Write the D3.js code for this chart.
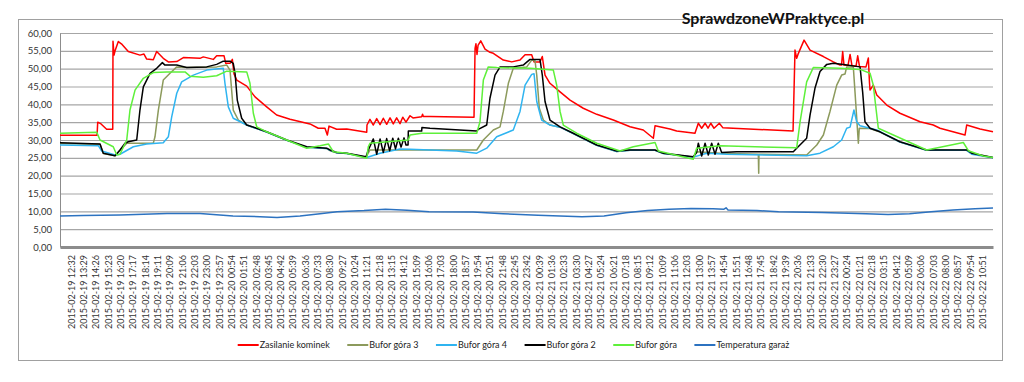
<!DOCTYPE html>
<html><head><meta charset="utf-8">
<script src="https://cdn.jsdelivr.net/npm/d3@7"></script>
<style>
html,body{margin:0;padding:0;background:#fff;}
svg{display:block;font-family:Lato,"Liberation Sans",sans-serif;}
</style></head>
<body><svg id="c" width="1024" height="382"></svg>
<script>
// x values: hours since 2015-02-19 12:32
const tickLabels = ["2015-02-19 12:32","2015-02-19 13:29","2015-02-19 14:26","2015-02-19 15:23","2015-02-19 16:20","2015-02-19 17:17","2015-02-19 18:14","2015-02-19 19:11","2015-02-19 20:09","2015-02-19 21:06","2015-02-19 22:03","2015-02-19 23:00","2015-02-19 23:57",
"2015-02-20 00:54","2015-02-20 01:51","2015-02-20 02:48","2015-02-20 03:45","2015-02-20 04:42","2015-02-20 05:39","2015-02-20 06:36","2015-02-20 07:33","2015-02-20 08:30","2015-02-20 09:27","2015-02-20 10:24","2015-02-20 11:21","2015-02-20 12:18","2015-02-20 13:15","2015-02-20 14:12","2015-02-20 15:09","2015-02-20 16:06","2015-02-20 17:03","2015-02-20 18:00","2015-02-20 18:57","2015-02-20 19:54","2015-02-20 20:51","2015-02-20 21:48","2015-02-20 22:45","2015-02-20 23:42",
"2015-02-21 00:39","2015-02-21 01:36","2015-02-21 02:33","2015-02-21 03:30","2015-02-21 04:27","2015-02-21 05:24","2015-02-21 06:21","2015-02-21 07:18","2015-02-21 08:15","2015-02-21 09:12","2015-02-21 10:09","2015-02-21 11:06","2015-02-21 12:03","2015-02-21 13:00","2015-02-21 13:57","2015-02-21 14:54","2015-02-21 15:51","2015-02-21 16:48","2015-02-21 17:45","2015-02-21 18:42","2015-02-21 19:39","2015-02-21 20:36","2015-02-21 21:33","2015-02-21 22:30","2015-02-21 23:27",
"2015-02-22 00:24","2015-02-22 01:21","2015-02-22 02:18","2015-02-22 03:15","2015-02-22 04:12","2015-02-22 05:09","2015-02-22 06:06","2015-02-22 07:03","2015-02-22 08:00","2015-02-22 08:57","2015-02-22 09:54","2015-02-22 10:51"];
const yTicks = [0,5,10,15,20,25,30,35,40,45,50,55,60];
const seriesNames = ["Zasilanie kominek","Bufor góra 3","Bufor góra 4","Bufor góra 2","Bufor góra","Temperatura garaż"];
const seriesColors = ["#ff0000","#8c9a5c","#2fb4f0","#000000","#5ef03a","#2c72c0"];

const zasilanieKominek = [[-0.85,31.3],[2.01,31.3],[2.06,35.0],[2.32,34.5],[2.75,33.0],[3.22,33.0],[3.24,57.7],[3.32,53.8],[3.40,55.0],[3.65,57.6],[3.94,56.8],[4.42,54.8],[5.32,53.8],[5.63,54.1],[5.84,52.7],[6.35,52.5],[6.61,54.8],[7.12,52.9],[7.51,51.9],[8.16,52.0],[8.67,53.1],[9.95,52.9],[10.21,53.3],[10.98,52.6],[11.24,53.6],[11.81,53.6],[11.94,51.5],[12.27,51.5],[12.45,52.6],[12.58,48.5],[12.79,46.8],[13.56,45.1],[14.20,42.1],[15.10,39.3],[15.87,37.0],[16.90,35.8],[18.44,34.5],[19.08,33.3],[19.60,33.3],[19.78,31.4],[19.91,33.9],[20.50,33.0],[21.28,33.1],[22.82,32.2],[22.84,34.2],[23.07,35.8],[23.33,34.2],[23.59,36.0],[23.85,34.3],[24.10,36.1],[24.36,34.4],[24.62,36.2],[24.87,34.5],[25.13,36.2],[25.39,34.6],[25.60,36.4],[25.85,35.0],[26.16,36.8],[26.39,36.2],[27.06,36.5],[27.13,37.2],[27.19,36.6],[27.70,36.6],[31.10,36.4],[31.18,55.7],[31.25,57.0],[31.33,54.0],[31.41,56.5],[31.62,57.8],[31.95,55.5],[32.33,54.6],[32.59,54.3],[33.36,52.4],[34.01,51.9],[34.65,52.4],[35.04,53.9],[35.55,53.9],[35.73,51.9],[36.19,51.9],[36.37,53.4],[36.58,48.2],[36.96,45.9],[37.74,43.5],[38.51,41.2],[39.53,38.9],[40.57,37.2],[41.85,35.6],[43.14,33.7],[44.16,32.8],[44.94,30.5],[45.07,34.0],[46.22,33.1],[46.74,32.5],[48.15,31.9],[48.41,34.7],[48.67,33.3],[48.93,34.7],[49.16,33.3],[49.37,34.7],[49.62,33.3],[50.03,34.7],[50.31,33.4],[51.09,33.3],[55.72,32.5],[55.87,55.2],[56.00,52.9],[56.10,54.0],[56.57,58.0],[57.03,55.2],[58.06,53.4],[58.83,51.9],[59.34,51.0],[59.46,51.0],[59.55,54.8],[59.65,51.0],[59.96,50.9],[60.12,54.0],[60.27,50.8],[60.58,50.7],[60.71,53.6],[60.85,50.6],[61.35,50.5],[61.53,53.0],[61.62,46.0],[61.66,44.0],[61.91,45.4],[62.18,42.6],[62.95,39.8],[63.97,37.5],[65.52,35.1],[66.54,34.2],[67.06,33.3],[68.99,31.4],[69.12,34.2],[70.15,33.1],[71.15,32.3]];

const buforGora3 = [[-0.85,29.0],[2.24,28.8],[2.49,26.2],[3.40,25.6],[4.30,29.1],[6.35,29.1],[6.48,30.9],[6.74,38.4],[7.12,46.8],[7.64,48.7],[8.16,50.5],[8.93,50.3],[11.24,50.5],[12.02,51.0],[12.27,49.6],[12.52,38.4],[12.91,35.6],[13.56,34.2],[14.33,33.2],[15.10,32.2],[16.65,29.9],[18.19,28.0],[19.73,27.6],[19.99,27.0],[20.50,26.4],[21.28,26.2],[22.77,25.2],[23.07,27.2],[31.31,27.2],[31.82,30.0],[32.59,32.8],[33.11,33.7],[33.36,38.0],[33.75,45.9],[34.13,50.1],[35.17,50.5],[35.55,52.4],[35.81,52.2],[35.94,48.2],[36.14,38.9],[36.45,35.6],[36.96,34.2],[37.74,33.6],[38.76,31.8],[40.57,28.5],[42.11,26.8],[43.14,27.1],[45.07,27.1],[45.71,26.2],[48.02,25.2],[48.28,26.7],[50.08,26.3],[53.04,26.0],[53.07,20.7],[53.09,26.0],[56.77,25.8],[57.55,28.6],[58.06,31.4],[58.57,38.0],[59.09,45.4],[59.47,48.2],[59.73,48.5],[59.86,50.5],[60.37,50.5],[60.50,43.5],[60.76,29.1],[60.83,33.3],[61.66,33.2],[62.43,32.2],[63.97,29.4],[66.03,27.1],[69.12,27.1],[69.51,26.2],[71.15,25.0]];

const buforGora4 = [[-0.85,28.6],[2.11,28.4],[2.37,26.9],[3.40,25.8],[3.78,26.0],[4.81,28.1],[5.84,28.9],[7.12,29.2],[7.51,30.9],[7.77,36.5],[8.16,43.1],[8.54,46.3],[9.44,48.2],[10.47,49.6],[11.75,50.1],[11.88,45.9],[12.14,39.3],[12.52,36.1],[13.56,34.2],[14.33,33.2],[15.10,32.2],[16.65,29.9],[18.19,28.0],[19.73,27.6],[19.99,27.1],[20.50,26.4],[21.28,26.2],[22.82,25.1],[23.85,26.3],[25.39,27.5],[26.16,27.4],[27.70,27.2],[29.76,26.9],[31.31,26.3],[32.08,27.7],[32.85,30.9],[34.13,32.8],[34.65,38.0],[35.04,45.4],[35.55,48.4],[35.73,48.6],[35.94,40.8],[36.32,35.6],[36.96,34.2],[37.74,33.6],[38.76,31.8],[40.57,28.5],[42.11,26.8],[43.14,27.1],[45.07,27.1],[45.71,26.2],[48.02,25.2],[49.06,26.3],[50.60,26.0],[56.77,25.6],[57.80,26.3],[58.83,28.1],[59.47,30.0],[59.86,33.3],[60.12,33.6],[60.42,38.4],[60.63,35.1],[60.89,34.0],[62.18,32.8],[63.97,29.4],[66.03,27.1],[69.12,27.1],[69.51,26.0],[71.15,25.0]];

const buforGora2 = [[-0.85,29.2],[2.24,28.9],[2.49,26.3],[3.40,25.6],[3.78,27.2],[4.17,29.1],[4.42,29.5],[5.07,30.0],[5.32,38.4],[5.58,44.9],[6.10,48.7],[6.61,50.1],[7.05,51.7],[7.25,51.0],[8.16,51.0],[8.93,50.3],[10.47,50.5],[11.24,51.2],[11.75,52.1],[12.27,52.1],[12.52,51.5],[12.66,48.7],[12.83,41.2],[13.17,36.1],[13.56,34.2],[14.33,33.3],[15.10,32.3],[16.65,30.0],[18.19,28.1],[19.73,27.7],[19.99,27.2],[20.50,26.5],[21.28,26.3],[22.77,25.3],[22.92,27.0],[23.33,30.3],[23.59,26.0],[23.85,30.3],[24.10,26.5],[24.36,30.4],[24.59,27.0],[24.83,30.5],[25.04,27.5],[25.26,30.5],[25.47,28.0],[25.70,30.6],[25.85,28.6],[26.01,28.6],[26.03,32.5],[27.06,32.5],[27.08,33.5],[27.70,33.3],[31.31,32.5],[31.43,33.0],[32.08,34.2],[32.33,41.7],[32.72,48.2],[33.11,50.5],[34.13,50.5],[34.90,51.0],[35.42,52.6],[36.19,52.6],[36.37,48.2],[36.58,40.8],[36.96,35.6],[37.74,33.7],[38.76,31.9],[40.57,28.6],[42.11,26.9],[43.14,27.2],[45.07,27.2],[45.71,26.3],[48.02,25.3],[48.28,26.5],[48.41,29.1],[48.67,25.5],[48.93,29.1],[49.18,25.8],[49.44,29.1],[49.70,26.0],[49.95,29.1],[50.21,26.5],[51.37,26.7],[55.74,26.7],[56.00,27.7],[56.77,30.5],[57.03,37.0],[57.41,44.5],[57.80,49.2],[58.32,51.2],[58.83,51.5],[59.60,51.2],[60.89,50.5],[61.09,43.5],[61.27,35.1],[61.66,33.3],[62.43,32.3],[63.97,29.5],[66.03,27.2],[69.12,27.2],[69.51,26.3],[71.15,25.1]];

const buforGora = [[-0.85,31.9],[1.98,32.2],[2.24,30.0],[3.26,28.1],[3.53,25.8],[3.78,26.0],[4.30,30.0],[4.55,38.4],[4.94,44.0],[5.58,47.3],[6.35,48.9],[7.39,49.1],[8.80,49.1],[9.18,47.9],[10.21,47.6],[11.24,48.0],[12.02,49.3],[13.56,49.1],[13.81,45.9],[14.07,37.5],[14.33,33.7],[15.10,32.3],[16.65,30.0],[18.19,27.7],[19.22,28.4],[19.86,28.9],[20.24,26.7],[20.76,26.5],[21.28,26.3],[22.82,24.9],[22.94,28.1],[23.07,29.1],[26.03,30.0],[26.16,31.4],[27.06,31.9],[31.31,31.9],[31.56,35.1],[31.82,46.8],[32.20,50.5],[32.85,50.3],[35.42,50.1],[37.22,49.6],[37.48,45.4],[37.74,38.0],[37.99,34.2],[39.02,31.9],[40.57,29.1],[42.37,26.9],[43.39,28.1],[45.07,29.3],[45.32,26.9],[48.02,24.6],[48.28,27.7],[50.08,28.4],[56.00,27.8],[56.26,35.1],[56.77,46.3],[57.28,50.3],[59.34,50.1],[60.89,49.8],[61.66,48.7],[61.91,45.4],[62.30,33.3],[63.46,31.4],[66.03,27.2],[68.86,29.3],[69.25,27.0],[70.40,25.5],[71.15,25.1]];

const temperaturaGaraz = [[-0.85,8.7],[0.93,8.8],[3.78,9.0],[7.41,9.4],[9.95,9.4],[12.50,8.7],[14.59,8.5],[15.90,8.3],[17.67,8.7],[19.22,9.3],[20.53,9.9],[22.61,10.2],[24.27,10.6],[25.93,10.3],[27.63,9.9],[31.02,9.8],[33.34,9.3],[36.04,8.9],[39.43,8.5],[41.13,8.7],[42.83,9.6],[44.49,10.2],[46.15,10.6],[47.85,10.8],[49.54,10.7],[50.39,10.6],[50.55,11.0],[50.70,10.4],[52.94,10.2],[54.60,9.9],[57.95,9.7],[61.35,9.3],[63.05,9.1],[64.71,9.3],[66.37,9.9],[68.06,10.4],[69.76,10.7],[71.15,10.9]];

const seriesData = [zasilanieKominek, buforGora3, buforGora4, buforGora2, buforGora, temperaturaGaraz];

const startTime = new Date(2015,1,19,12,32);
const parse = d3.timeParse("%Y-%m-%d %H:%M");
const tickHours = tickLabels.map(s => (parse(s) - startTime)/3600000);

const svg = d3.select("#c");
const L = 60, R = 993, T = 33, B = 247;

// chart border
svg.append("rect").attr("x",18.5).attr("y",19.5).attr("width",984).attr("height",341)
  .attr("fill","none").attr("stroke","#a0a0a0").attr("stroke-width",1);

const x = d3.scaleLinear().domain([-0.85, 71.15]).range([L, R]);
const y = d3.scaleLinear().domain([0, 60]).range([B, T]);

// gridlines
svg.append("g").attr("transform",`translate(${L},0)`)
  .call(d3.axisLeft(y).tickValues(yTicks.slice(1)).tickSize(-(R-L)).tickFormat(""))
  .call(g=>g.select(".domain").remove())
  .call(g=>g.selectAll("line").attr("stroke","#a6a6a6").attr("stroke-width",1.2));

// y axis labels
const fmt = d => d3.format(".2f")(d).replace(".",",");
svg.append("g").attr("transform",`translate(${L},0)`)
  .call(d3.axisLeft(y).tickValues(yTicks).tickSize(0).tickPadding(8).tickFormat(fmt))
  .call(g=>g.select(".domain").attr("stroke","#8c8c8c"))
  .call(g=>g.selectAll("text").attr("font-family","Lato").attr("font-size",9.5).attr("fill","#333"));

// x axis
const xa = svg.append("g").attr("transform",`translate(0,${B})`)
  .call(d3.axisBottom(x).tickValues(tickHours).tickSize(0).tickFormat((d,i)=>tickLabels[i]));
xa.select(".domain").attr("stroke","#8c8c8c").attr("stroke-width",3);
xa.selectAll("text").attr("font-family","Lato").attr("font-size",9).attr("fill","#333")
  .attr("text-anchor","end").attr("transform","translate(0,8) rotate(-90)").attr("x",0).attr("y",0).attr("dy","0.35em");

// series lines
const line = d3.line().x(d=>x(d[0])).y(d=>y(d[1]));
seriesData.forEach((s,i)=>{
  svg.append("path").datum(s).attr("d",line).attr("fill","none")
    .attr("stroke",seriesColors[i]).attr("stroke-width",1.5).attr("stroke-linejoin","round");
});

// title
svg.append("text").attr("x",773).attr("y",24).attr("text-anchor","middle")
  .attr("font-family","Lato").attr("font-weight","bold").attr("font-size",16).attr("fill","#111")
  .text("SprawdzoneWPraktyce.pl");

// legend (centered on chart area)
const lg = svg.append("g");
const ly = 345;
const items = [];
let lx = 0;
seriesNames.forEach((n,i)=>{
  const it = lg.append("g");
  it.append("line").attr("x1",0).attr("x2",21).attr("y1",0).attr("y2",0)
    .attr("stroke",seriesColors[i]).attr("stroke-width",2);
  const t = it.append("text").attr("x",22).attr("y",0).attr("dy","0.35em")
    .attr("font-family","Lato").attr("font-size",9).attr("fill","#222").text(n);
  it.attr("transform",`translate(${lx},${ly})`);
  lx += 22 + t.node().getComputedTextLength() + 17.5;
});
const legendW = lx - 17.5;
lg.attr("transform",`translate(${513.5 - legendW/2},0)`);
</script></body></html>
